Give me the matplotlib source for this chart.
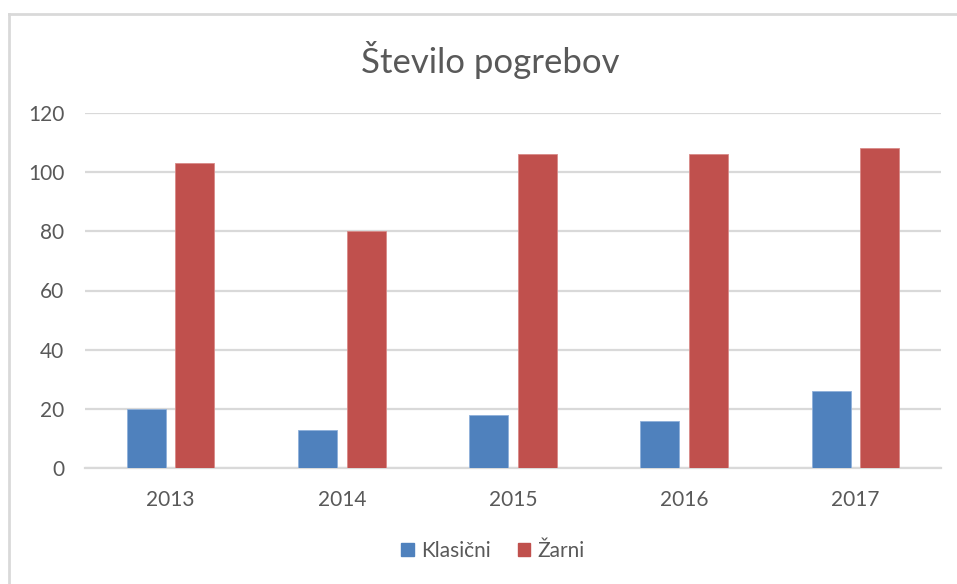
import matplotlib
matplotlib.use("Agg")
import matplotlib.pyplot as plt
import numpy as np
from matplotlib.lines import Line2D

years = ["2013", "2014", "2015", "2016", "2017"]
klasicni = [20, 13, 18, 16, 26]
zarni = [103, 80, 106, 106, 108]
series_names = ["Klasični", "Žarni"]
yticks = [0, 20, 40, 60, 80, 100, 120]
title = "Število pogrebov"

plt.rcParams['font.family'] = ['Lato', 'DejaVu Sans']
txt = '#595959'

fig = plt.figure(figsize=(9.57, 5.84), dpi=100)
W, H = 957, 584
ax = fig.add_axes([85 / W, 1 - 468 / H, (941 - 85) / W, (468 - 113) / H])

x = np.arange(len(years))
bw = 0.228
off = 0.142
ax.bar(x - off, klasicni, bw, color='#4f81bd', edgecolor='#8fb0da', linewidth=0.6, label=series_names[0], zorder=3)
ax.bar(x + off, zarni, bw, color='#c0504d', edgecolor='#d98a88', linewidth=0.6, label=series_names[1], zorder=3)

ax.set_xlim(-0.5, len(years) - 0.5)
ax.set_ylim(0, 120)
ax.set_yticks(yticks)
ax.set_yticklabels([str(v) for v in yticks])
ax.set_xticks(x)
ax.set_xticklabels(years)
ax.grid(axis='y', color='#d9d9d9', linewidth=1.6, zorder=0)
ax.set_axisbelow(True)
for s in ['top', 'right', 'left']:
    ax.spines[s].set_visible(False)
ax.spines['bottom'].set_color('#d9d9d9')
ax.spines['bottom'].set_linewidth(1.6)
ax.tick_params(axis='both', length=0, labelsize=15, colors=txt)
ax.tick_params(axis='y', pad=15)
ax.tick_params(axis='x', pad=16)

fig.text(490 / W, 1 - 60 / H, title, ha='center', va='center', fontsize=25, color=txt)

handles = [plt.Rectangle((0, 0), 1, 1, color='#4f81bd'), plt.Rectangle((0, 0), 1, 1, color='#c0504d')]
fig.legend(handles, series_names, loc='center', bbox_to_anchor=(493 / W, 1 - 551 / H), ncol=2,
           frameon=False, fontsize=15, labelcolor=txt, handlelength=0.6, handleheight=0.6,
           handletextpad=0.35, columnspacing=1.3)

fig.add_artist(Line2D([9 / W, 9 / W], [0, 1 - 14 / H], color='#d9d9d9', linewidth=2, transform=fig.transFigure))
fig.add_artist(Line2D([9 / W, 1], [1 - 14 / H, 1 - 14 / H], color='#d9d9d9', linewidth=2, transform=fig.transFigure))

fig.savefig('out.png', dpi=100)
